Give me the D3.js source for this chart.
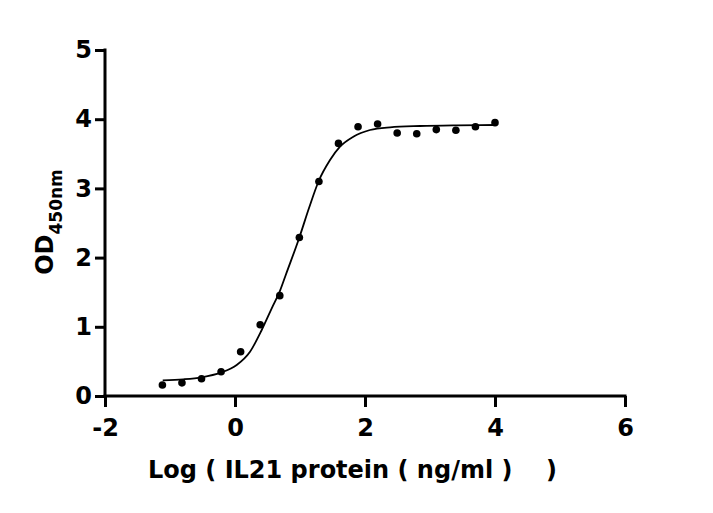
<!DOCTYPE html>
<html>
<head>
<meta charset="utf-8">
<script src="https://cdn.jsdelivr.net/npm/d3@7"></script>
<style>
  body { margin: 0; background: #fff; }
  text { font-family: "DejaVu Sans", sans-serif; font-weight: 700; fill: #000; }
</style>
</head>
<body>
<div id="chart"></div>
<script>
// log concentration (ng/ml) of each dilution and the measured OD450
const logConc = [-1.117, -0.816, -0.515, -0.214, 0.087, 0.388, 0.689, 0.990, 1.291,
                 1.592, 1.893, 2.194, 2.495, 2.796, 3.097, 3.398, 3.699, 4.000];
const odValues = [0.16, 0.19, 0.25, 0.35, 0.64, 1.03, 1.45, 2.29, 3.10,
                  3.65, 3.89, 3.93, 3.80, 3.79, 3.85, 3.84, 3.89, 3.95];

// fitted curve
const fitX = [-1.112, -0.795, -0.512, -0.22, 0.026, 0.231, 0.411, 0.565, 0.692, 0.785,
              0.989, 1.14, 1.288, 1.462, 1.615, 1.82, 2.077, 2.385, 2.846, 3.41, 4.005];
const fitY = [0.227, 0.241, 0.270, 0.337, 0.448, 0.640, 0.954, 1.267, 1.520, 1.760,
              2.288, 2.720, 3.107, 3.410, 3.603, 3.747, 3.844, 3.883, 3.902, 3.912, 3.916];

const xTicks = [-2, 0, 2, 4, 6];
const yTicks = [0, 1, 2, 3, 4, 5];

const width = 713, height = 513;

const svg = d3.select('#chart').append('svg')
    .attr('width', width)
    .attr('height', height);

const x = d3.scaleLinear().domain([-2, 6]).range([105, 625]);
const y = d3.scaleLinear().domain([0, 5]).range([396, 50]);

// axes
const xAxis = svg.append('g')
    .attr('transform', `translate(0,${y(0)})`)
    .call(d3.axisBottom(x).tickValues(xTicks).tickSize(11).tickPadding(12).tickFormat(d => String(d)));

const yAxis = svg.append('g')
    .attr('transform', `translate(${x(-2)},0)`)
    .call(d3.axisLeft(y).tickValues(yTicks).tickSize(10).tickPadding(3).tickFormat(d => String(d)));

[xAxis, yAxis].forEach(g => {
    g.select('.domain').attr('stroke', '#000').attr('stroke-width', 3);
    g.selectAll('.tick line').attr('stroke', '#000').attr('stroke-width', 3);
    g.selectAll('.tick text')
        .style('font-size', '24px')
        .style('font-family', '"DejaVu Sans", sans-serif')
        .style('font-weight', 700)
        .attr('fill', '#000');
});
// no outer ticks
xAxis.select('.domain').attr('d', `M${x(-2) - 1.5},0H${x(6) + 1.5}`);
yAxis.select('.domain').attr('d', `M0,${y(5) - 1.5}V${y(0) + 1.5}`);

// fitted curve
const line = d3.line()
    .x(d => x(d[0]))
    .y(d => y(d[1]))
    .curve(d3.curveMonotoneX);

svg.append('path')
    .datum(fitX.map((v, i) => [v, fitY[i]]))
    .attr('d', line)
    .attr('fill', 'none')
    .attr('stroke', '#000')
    .attr('stroke-width', 1.8);

// data points
svg.append('g')
    .selectAll('circle')
    .data(logConc.map((v, i) => ({ x: v, y: odValues[i] })))
    .join('circle')
    .attr('cx', d => x(d.x))
    .attr('cy', d => y(d.y))
    .attr('r', 3.8)
    .attr('fill', '#000');

// axis titles
svg.append('text')
    .attr('x', 148)
    .attr('y', 478)
    .attr('text-anchor', 'start')
    .style('font-size', '24px')
    .text('Log ( IL21 protein ( ng/ml )\u00a0\u00a0\u00a0\u00a0)');

const yTitle = svg.append('text')
    .attr('transform', 'translate(53,222) rotate(-90)')
    .attr('text-anchor', 'middle');
yTitle.append('tspan').style('font-size', '24px').text('OD');
yTitle.append('tspan').style('font-size', '17px').attr('dy', 9).text('450nm');
</script>
</body>
</html>
